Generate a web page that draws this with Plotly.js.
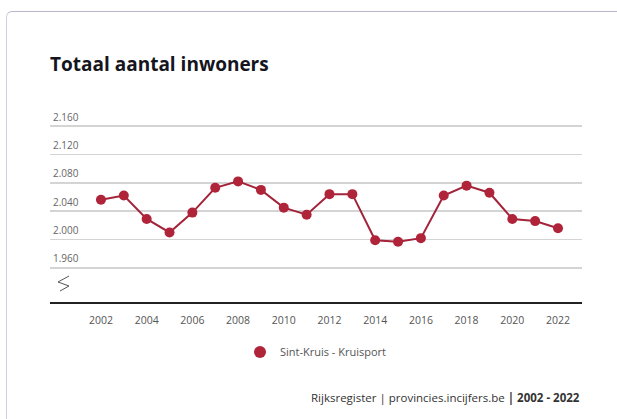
<!DOCTYPE html>
<html>
<head>
<meta charset="utf-8">
<script src="https://cdn.plot.ly/plotly-3.0.1.min.js"></script>
<style>
  html, body { margin: 0; padding: 0; background: #ffffff; overflow: hidden; width: 617px; height: 419px; }
  #card { position: absolute; left: 6px; top: 11px; width: 611px; height: 408px;
          border-top: 1px solid #b8b8cc; border-left: 1px solid #d0d0dc;
          border-top-left-radius: 6px; box-sizing: border-box; background: #fff; }
  #chart { position: absolute; left: 0; top: 0; width: 617px; height: 419px; }
</style>
</head>
<body>
<div id="card"></div>
<div id="chart"></div>
<script>
// ---- data ----
const years = [2002, 2003, 2004, 2005, 2006, 2007, 2008, 2009, 2010, 2011, 2012,
               2013, 2014, 2015, 2016, 2017, 2018, 2019, 2020, 2021, 2022];
const inwoners = [2056, 2062, 2029, 2010, 2038, 2073, 2082, 2070, 2045, 2035, 2064,
                  2064, 1999, 1997, 2002, 2062, 2076, 2066, 2029, 2026, 2016];
const seriesName = "Sint-Kruis - Kruisport";
const yTicks = [1960, 2000, 2040, 2080, 2120, 2160];
const xTicks = [2002, 2004, 2006, 2008, 2010, 2012, 2014, 2016, 2018, 2020, 2022];
const titleText = "Totaal aantal inwoners";
const sourceText = "Rijksregister | provincies.incijfers.be <b>| 2002 - 2022</b>";

const red = "#b0243a";

const trace = {
  x: years,
  y: inwoners,
  name: seriesName,
  type: "scatter",
  mode: "lines+markers",
  line: { color: "#a3233a", width: 2 },
  marker: { color: red, size: 10 },
  showlegend: false
};

// legend-only entry (marker symbol only, as in the reference)
const legendTrace = {
  x: [null],
  y: [null],
  name: seriesName,
  type: "scatter",
  mode: "markers",
  marker: { color: red, size: 12 },
  showlegend: true
};

const plotTop = 104, plotBottom = 302;          // pixel rows of plot area
const pxPerUnit = 28.33 / 40;
const yMax = 2160 + (126 - plotTop) / pxPerUnit;
const yMin = 1960 - (plotBottom - 268) / pxPerUnit;

const layout = {
  width: 617,
  height: 419,
  margin: { l: 50, r: 35, t: plotTop, b: 419 - plotBottom },
  paper_bgcolor: "rgba(0,0,0,0)",
  plot_bgcolor: "rgba(0,0,0,0)",
  separators: ",.",
  font: { family: "Open Sans, Noto Sans, sans-serif", size: 10, color: "#555" },
  title: {
    text: "<b>" + titleText + "</b>",
    xref: "container", yref: "container",
    x: 50 / 617, xanchor: "left",
    y: 1 - 64 / 419, yanchor: "middle",
    font: { family: "Open Sans, Noto Sans, sans-serif", size: 19, color: "#151520" }
  },
  xaxis: {
    range: [1999.77, 2023.05],
    tickvals: xTicks,
    ticktext: xTicks.map(String),
    showgrid: false,
    zeroline: false,
    showline: true,
    linecolor: "#222",
    linewidth: 2,
    ticks: "",
    ticklabelstandoff: 7,
    tickfont: { size: 10.5, color: "#555" },
    fixedrange: true
  },
  yaxis: {
    range: [yMin, yMax],
    tickvals: yTicks,
    tickformat: ",d",
    showgrid: true,
    gridcolor: "#d4d4d4",
    gridwidth: 1.5,
    zeroline: false,
    showline: false,
    ticks: "",
    ticklabelposition: "inside",
    ticklabelshift: -9,
    tickfont: { size: 10, color: "#666" },
    fixedrange: true
  },
  legend: {
    orientation: "h",
    x: 0.5, xanchor: "center",
    y: -(352 - plotBottom) / (plotBottom - plotTop), yanchor: "middle",
    font: { size: 11, color: "#555" },
    itemwidth: 30
  },
  annotations: [
    {
      text: sourceText,
      xref: "paper", yref: "paper",
      x: 1, xanchor: "right",
      y: -(397 - plotBottom) / (plotBottom - plotTop), yanchor: "middle",
      showarrow: false,
      font: { size: 11.5, color: "#333" }
    }
  ],
  shapes: [
    {
      type: "path",
      xref: "paper", yref: "paper",
      path: "M " + ((69 - 50) / 532) + " " + ((302 - 276) / 198) +
            " L " + ((58 - 50) / 532) + " " + ((302 - 282) / 198) +
            " L " + ((69 - 50) / 532) + " " + ((302 - 286) / 198) +
            " L " + ((60 - 50) / 532) + " " + ((302 - 291) / 198),
      line: { color: "#555", width: 1 }
    }
  ]
};

Plotly.newPlot("chart", [trace, legendTrace], layout, { displayModeBar: false, staticPlot: true });
</script>
</body>
</html>
